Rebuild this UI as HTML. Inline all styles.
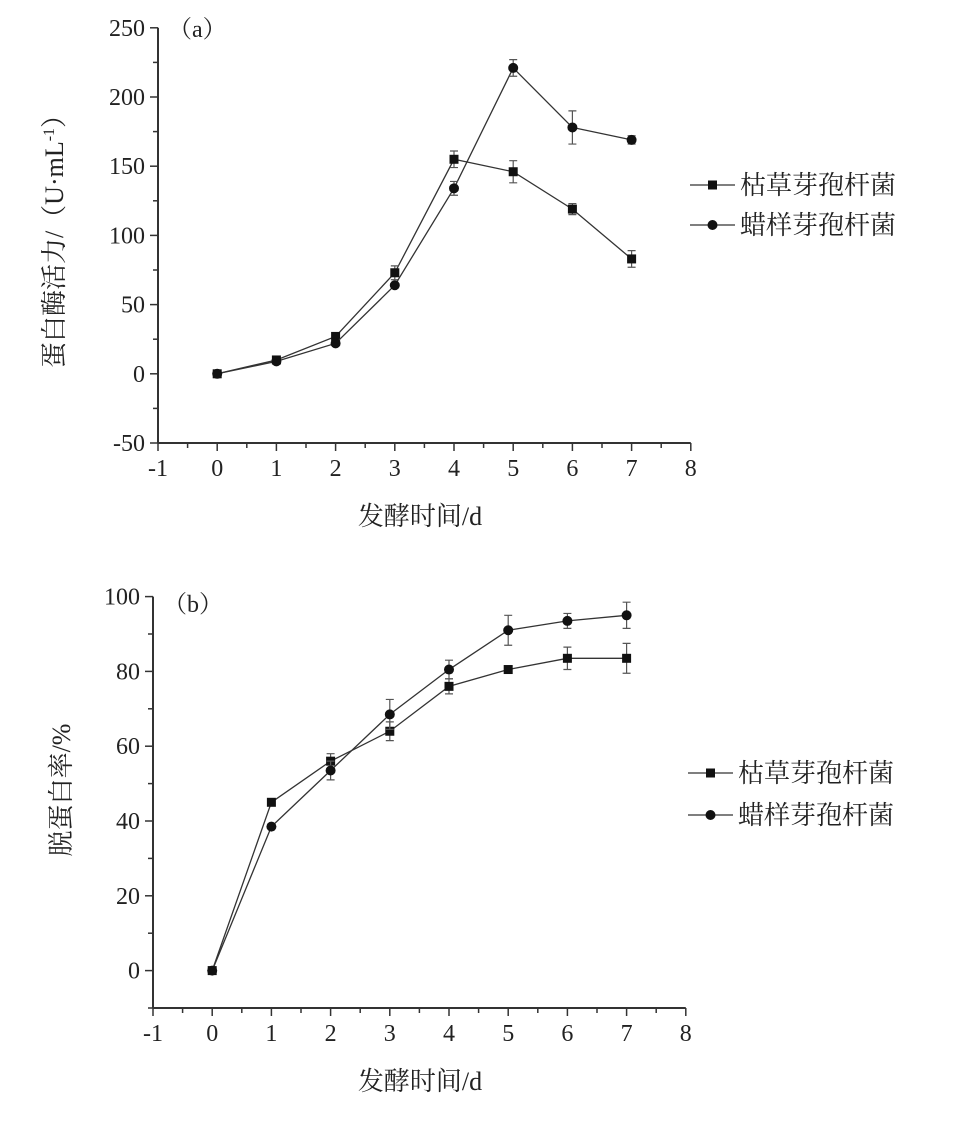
<!DOCTYPE html>
<html><head><meta charset="utf-8"><style>body{margin:0;background:#fff}svg{display:block}text{font-family:"Liberation Serif","Noto Serif CJK SC",serif;fill:#222}</style></head>
<body>
<svg id="s" width="965" height="1122" xmlns="http://www.w3.org/2000/svg"></svg>
<script>
const s=document.getElementById('s');let h='';
function chart(o){
 const X=v=>o.x0+(v+1)*o.dx, Y=v=>o.y0-(v-o.ymin)*o.dy;
 h+=`<line x1="${o.x0}" y1="${Y(o.ymax)}" x2="${o.x0}" y2="${o.y0}" stroke="#333" stroke-width="2"/>`;
 h+=`<line x1="${o.x0}" y1="${o.y0}" x2="${X(8)}" y2="${o.y0}" stroke="#333" stroke-width="2"/>`;
 for(let k=Math.ceil(o.ymin/(o.ystep/2));k*(o.ystep/2)<=o.ymax+1e-9;k++){const v=k*o.ystep/2;const maj=k%2==0;
  const y=Y(v);h+=`<line x1="${o.x0-(maj?8:5)}" y1="${y}" x2="${o.x0}" y2="${y}" stroke="#333" stroke-width="1.5"/>`;
  if(maj)h+=`<text x="${o.x0-13}" y="${y+8}" font-size="24" text-anchor="end">${v}</text>`;}
 for(let v=-1;v<=8;v+=0.5){const x=X(v);const maj=v%1==0;h+=`<line x1="${x}" y1="${o.y0}" x2="${x}" y2="${o.y0+(maj?8:5)}" stroke="#333" stroke-width="1.5"/>`;
  if(maj)h+=`<text x="${x}" y="${o.y0+33}" font-size="24" text-anchor="middle">${v}</text>`;}
 [[o.sq,o.sqe,'s'],[o.ci,o.cie,'c']].forEach(([d,e,t])=>{
  h+=`<polyline fill="none" stroke="#333" stroke-width="1.3" points="${d.map((v,i)=>X(i)+','+Y(v)).join(' ')}"/>`;
  d.forEach((v,i)=>{const x=X(i),y=Y(v),er=e[i]||0;
   if(er){h+=`<path d="M${x},${Y(v-er)}V${Y(v+er)}M${x-4},${Y(v-er)}h8M${x-4},${Y(v+er)}h8" stroke="#555" stroke-width="1.2"/>`;}
   h+=t=='s'?`<rect x="${x-4.5}" y="${y-4.5}" width="9" height="9" fill="#111"/>`:`<circle cx="${x}" cy="${y}" r="5" fill="#111"/>`;});
 });
 const [lx,ly1,ly2]=o.leg;
 h+=`<line x1="${lx}" y1="${ly1}" x2="${lx+45}" y2="${ly1}" stroke="#333" stroke-width="1.3"/><rect x="${lx+18}" y="${ly1-4.5}" width="9" height="9" fill="#111"/>`;
 h+=`<line x1="${lx}" y1="${ly2}" x2="${lx+45}" y2="${ly2}" stroke="#333" stroke-width="1.3"/><circle cx="${lx+22.5}" cy="${ly2}" r="5" fill="#111"/>`;
 h+=`<text x="${lx+50}" y="${ly1+9}" font-size="26">枯草芽孢杆菌</text><text x="${lx+50}" y="${ly2+9}" font-size="26">蜡样芽孢杆菌</text>`;
 h+=`<text x="${o.lab[0]}" y="${o.lab[1]}" font-size="24">${o.lab[2]}</text>`;
 h+=`<text x="420" y="${o.y0+82}" font-size="26" text-anchor="middle">发酵时间/d</text>`;
 h+=`<text transform="translate(${o.yl[0]},${o.yl[1]}) rotate(-90)" font-size="26" text-anchor="middle">${o.yl[2]}</text>`;
}
chart({x0:158,dx:59.2,y0:443,ymin:-50,ymax:250,ystep:50,dy:69.2/50,
 sq:[0,10,27,73,155,146,119,83],sqe:[0,0,2,5,6,8,4,6],ci:[0,9,22,64,134,221,178,169],cie:[0,0,0,0,5,6,12,3],
 leg:[690,185,225],lab:[168,37,'（a）'],yl:[63,235,'蛋白酶活力/（U·mL<tspan dy="-9" font-size="16">-1</tspan><tspan dy="9">）</tspan>']});
chart({x0:153,dx:59.2,y0:1008,ymin:-10,ymax:100,ystep:20,dy:74.8/20,
 sq:[0,45,56,64,76,80.5,83.5,83.5],sqe:[0,0,2,2.5,2,0,3,4],ci:[0,38.5,53.5,68.5,80.5,91,93.5,95],cie:[0,0,2.5,4,2.5,4,2,3.5],
 leg:[688,773,815],lab:[163,612,'（b）'],yl:[70,790,'脱蛋白率/%']});
s.innerHTML=h;
</script>
</body></html>
